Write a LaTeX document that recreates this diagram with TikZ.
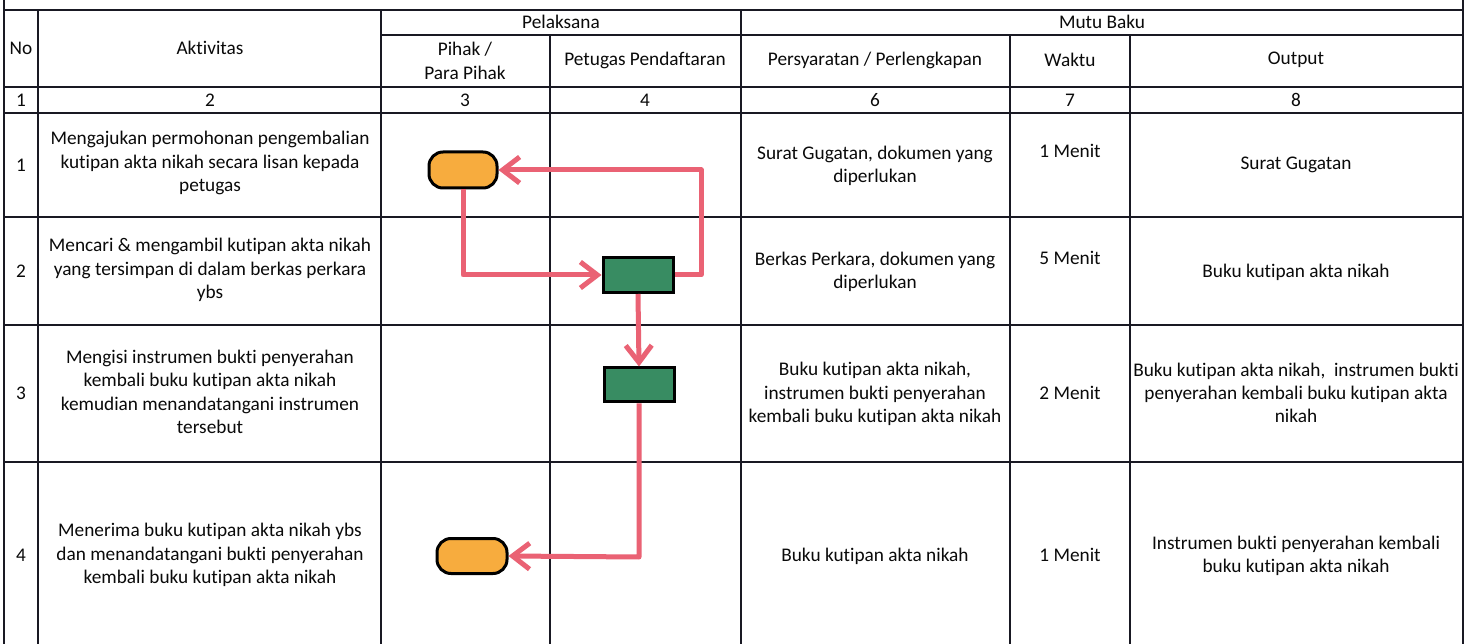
\documentclass[tikz,border=0pt]{standalone}
\usepackage{fontspec}
\setmainfont{Carlito}[Ligatures={NoCommon}]
\usetikzlibrary{arrows.meta}
\definecolor{flowpink}{RGB}{234,98,116}
\definecolor{termorange}{RGB}{247,172,62}
\definecolor{procgreen}{RGB}{56,140,98}
\definecolor{txt}{RGB}{10,10,10}
\definecolor{grid}{RGB}{25,25,35}
\tikzset{
  gridline/.style={draw=grid, line width=1.6pt},
  cell/.style={align=center, text=txt, inner sep=0pt, font=\fontsize{19.3}{23.3}\selectfont},
  term/.style={draw=black, line width=3pt, fill=termorange, rounded corners=14pt, minimum width=68pt, minimum height=36pt, inner sep=0pt},
  proc/.style={draw=black, line width=3pt, fill=procgreen, minimum width=70pt, minimum height=35pt, inner sep=0pt},
  flow/.style={draw=flowpink, line width=5pt, line join=round, -{Straight Barb[length=17pt, width=26pt, line width=5pt]}},
}
\begin{document}
\begin{tikzpicture}[x=1pt, y=-1pt]
\useasboundingbox (0,0) rectangle (1468,644);
\fill[white] (0,0) rectangle (1468,644);
% grid
\draw[gridline] (4,0) -- (4,644);
\draw[gridline] (1463,0) -- (1463,644);
\draw[gridline] (38,10) -- (38,644);
\draw[gridline] (381,10) -- (381,644);
\draw[gridline] (550,35) -- (550,644);
\draw[gridline] (741,10) -- (741,644);
\draw[gridline] (1010,35) -- (1010,644);
\draw[gridline] (1130,35) -- (1130,644);
\draw[gridline] (4,10) -- (1463,10);
\draw[gridline] (381,35) -- (1463,35);
\foreach \yy in {87,113,217,325,462} \draw[gridline] (4,\yy) -- (1463,\yy);
% header
\node[cell] (hNo) at (21,48) {No};
\node[cell] (hAkt) at (210,48) {Aktivitas};
\node[cell] (hPel) at (561,22) {Pelaksana};
\node[cell] (hMutu) at (1102,22) {Mutu Baku};
\node[cell] (hPihak) at (465,61) {Pihak /\\Para Pihak};
\node[cell] (hPetugas) at (645,60) {Petugas Pendaftaran};
\node[cell] (hSyarat) at (875,60) {Persyaratan / Perlengkapan};
\node[cell] (hWaktu) at (1070,60) {Waktu};
\node[cell] (hOut) at (1296,60) {Output};
% numbers
\node[cell] (n1) at (21,100) {1};
\node[cell] (n2) at (210,100) {2};
\node[cell] (n3) at (465,100) {3};
\node[cell] (n4) at (645,100) {4};
\node[cell] (n6) at (875,100) {6};
\node[cell] (n7) at (1070,100) {7};
\node[cell] (n8) at (1296,100) {8};
% row 1
\node[cell] (r1no) at (21,165) {1};
\node[cell] (r1akt) at (210,163) {Mengajukan permohonan pengembalian\\kutipan akta nikah secara lisan kepada\\petugas};
\node[cell] (r1syr) at (875,166) {Surat Gugatan, dokumen yang\\diperlukan};
\node[cell] (r1wkt) at (1070,151) {1 Menit};
\node[cell] (r1out) at (1296,165) {Surat Gugatan};
% row 2
\node[cell] (r2no) at (21,271) {2};
\node[cell] (r2akt) at (210,270) {Mencari \& mengambil kutipan akta nikah\\yang tersimpan di dalam berkas perkara\\ybs};
\node[cell] (r2syr) at (875,272) {Berkas Perkara, dokumen yang\\diperlukan};
\node[cell] (r2wkt) at (1070,258) {5 Menit};
\node[cell] (r2out) at (1296,272) {Buku kutipan akta nikah};
% row 3
\node[cell] (r3no) at (21,393) {3};
\node[cell] (r3akt) at (210,392) {Mengisi instrumen bukti penyerahan\\kembali buku kutipan akta nikah\\kemudian menandatangani instrumen\\tersebut};
\node[cell] (r3syr) at (875,394) {Buku kutipan akta nikah,\\instrumen bukti penyerahan\\kembali buku kutipan akta nikah};
\node[cell] (r3wkt) at (1070,393) {2 Menit};
\node[cell] (r3out) at (1296,393) {Buku kutipan akta nikah,\ \ instrumen bukti\\penyerahan kembali buku kutipan akta\\nikah};
% row 4
\node[cell] (r4no) at (21,555) {4};
\node[cell] (r4akt) at (210,555) {Menerima buku kutipan akta nikah ybs\\dan menandatangani bukti penyerahan\\kembali buku kutipan akta nikah};
\node[cell] (r4syr) at (875,556) {Buku kutipan akta nikah};
\node[cell] (r4wkt) at (1070,555) {1 Menit};
\node[cell] (r4out) at (1296,556) {Instrumen bukti penyerahan kembali\\buku kutipan akta nikah};
% flow shapes
\node[term] (o1) at (463,170) {};
\node[proc] (g1) at (638,275) {};
\node[proc, minimum height=34pt] (g2) at (639,385) {};
\node[term, minimum width=70pt, minimum height=35pt] (o2) at (472,556) {};
\coordinate (c1) at (701,275);
\coordinate (c2) at (701,170);
\coordinate (c3) at (639,557);
% connectors
\draw[flow] (o1.south) |- (g1.west);
\draw[flow] (g1.east) -- (c1) -- (c2) -- (o1.east);
\draw[flow] (g1.south) -- (g2.north);
\draw[flow] (g2.south) -- (c3) -- (o2.east);
\end{tikzpicture}
\end{document}
